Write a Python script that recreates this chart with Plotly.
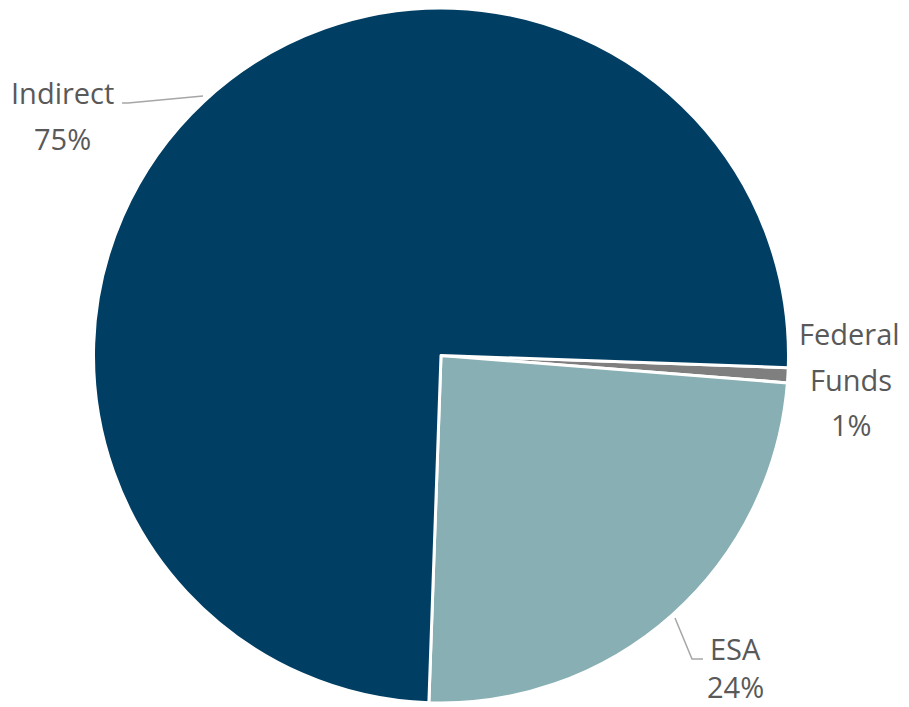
import plotly.graph_objects as go

labels = ["Federal Funds", "ESA", "Indirect"]
values = [0.7, 24.3, 75.0]
colors = ["#7F7F7F", "#88AFB3", "#003F63"]

# page body has an 8px margin; work in window pixels and convert
OFF = 8
W, H = 909 - OFF, 707 - OFF

def px(x, y):
    return (x - OFF) / W, 1 - (y - OFF) / H

top, bot = 8, 703
r = (bot - top) / 2
cx = 441
fig = go.Figure(go.Pie(
    labels=labels, values=values, sort=False, direction="clockwise",
    rotation=92, textinfo="none", hoverinfo="label+percent",
    marker=dict(colors=colors, line=dict(color="white", width=3)),
    domain=dict(x=[(cx - r - OFF) / W, (cx + r - OFF) / W],
                y=[1 - (bot - OFF) / H, 1 - (top - OFF) / H]),
    showlegend=False,
))

font = dict(family="Open Sans", size=29, color="#595959")
pct = [f"{round(v / sum(values) * 100)}%" for v in values]
lines = [
    ("Indirect", 62, 93), (pct[2], 62, 138),
    ("Federal", 849, 333), ("Funds", 851, 379), (pct[0], 851, 424),
    ("ESA", 735, 648), (pct[1], 735, 686),
]
for t, x, y in lines:
    ax, ay = px(x, y)
    fig.add_annotation(text=t, x=ax, y=ay, xref="paper", yref="paper",
                       showarrow=False, font=font, xanchor="center", yanchor="middle")

leader = dict(color="#A6A6A6", width=1.5)
def path(pts):
    return "M " + " L ".join("{},{}".format(*px(x, y)) for x, y in pts)
fig.add_shape(type="path", xref="paper", yref="paper",
              path=path([(122, 103), (128, 103), (203, 96)]), line=leader)
fig.add_shape(type="path", xref="paper", yref="paper",
              path=path([(675, 618), (692, 659), (703, 659)]), line=leader)

fig.update_layout(width=W, height=H, margin=dict(l=0, r=0, t=0, b=0),
                  paper_bgcolor="white", plot_bgcolor="white")
fig.write_html("out.html")
